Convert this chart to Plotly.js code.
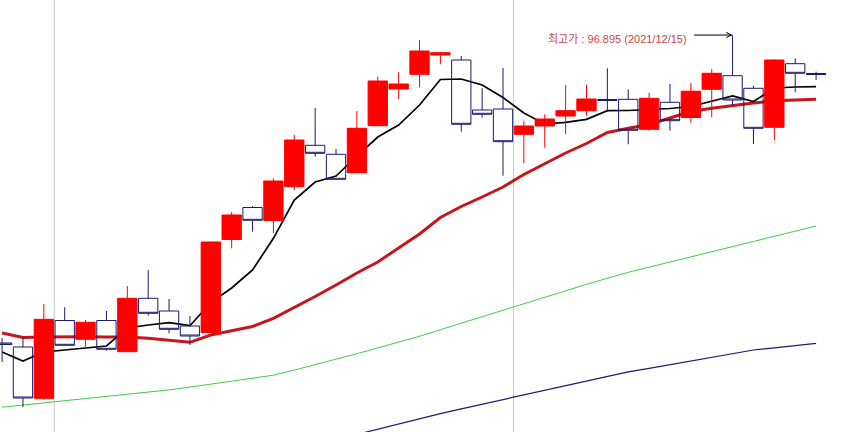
<!DOCTYPE html>
<html><head><meta charset="utf-8">
<script src="https://cdn.plot.ly/plotly-3.0.1.min.js"></script>
<style>html,body{margin:0;padding:0;background:#fff}#chart{width:843px;height:432px}</style>
</head><body><div id="chart"></div>
<script>
const dates = ['2021-10-27','2021-10-28','2021-10-29','2021-11-01','2021-11-02','2021-11-03','2021-11-04','2021-11-05',
  '2021-11-08','2021-11-09','2021-11-10','2021-11-11','2021-11-12','2021-11-15','2021-11-16','2021-11-17','2021-11-18','2021-11-19',
  '2021-11-22','2021-11-23','2021-11-24','2021-11-25','2021-11-26','2021-11-29','2021-11-30','2021-12-01','2021-12-02','2021-12-03',
  '2021-12-06','2021-12-07','2021-12-08','2021-12-09','2021-12-10','2021-12-13','2021-12-14','2021-12-15','2021-12-16','2021-12-17',
  '2021-12-20','2021-12-21'];
const openP = [66.1,65.7,60.57,68.35,66.47,68.35,65.23,70.57,69.3,67.8,67.15,76.45,79.65,78.35,81.73,85.87,84.97,83.13,87.83,91.5,
  92.97,94.9,94.4,89.4,89.5,86.97,87.8,88.8,89.33,90.45,90.47,87.47,90.17,88.65,91.47,92.83,91.57,87.67,94.03,93.05];
const highP = [66.6,66.6,70.0,69.67,68.4,69.3,71.8,73.4,70.5,68.8,76.25,79.2,79.8,82.57,86.9,89.6,85.5,89.3,92.73,93.2,
  96.4,95.15,94.8,91.57,93.6,88.32,88.97,91.9,91.9,93.57,91.47,91.13,92.0,92.1,93.5,96.895,91.83,94.45,94.57,93.23];
const lowP = [64.2,59.7,60.45,65.85,65.65,65.33,65.2,68.83,67.07,65.9,67.1,75.57,77.23,77.07,81.4,84.73,82.45,83.1,87.8,90.5,
  91.67,93.97,87.23,88.63,82.83,84.07,85.63,87.0,88.83,89.23,85.97,87.33,87.33,88.13,88.67,89.9,86.0,86.4,91.17,92.4];
const closeP = [65.95,60.6,68.47,65.87,68.17,65.47,70.57,69.07,67.47,66.8,76.2,78.9,78.37,82.3,86.4,85.07,82.47,87.57,92.3,92.0,
  95.3,95.13,87.97,88.97,86.23,87.8,88.5,89.33,90.5,90.35,87.37,90.57,88.33,91.28,93.07,90.4,87.57,94.4,93.07,92.95];
const ma5 = [65.2,64.3,65.2,65.43,65.6,65.8,67.6,67.9,68.13,67.83,70.14,71.6,73.4,76.57,80.4,82.2,82.8,84.8,86.7,87.9,
  89.9,92.45,92.5,91.9,90.65,89.1,88.0,88.17,88.47,89.33,89.35,89.45,89.55,89.75,90.3,90.8,90.25,91.6,91.7,91.73];
const ma20 = [67.1,66.65,66.7,66.73,66.73,66.7,66.7,66.57,66.37,66.17,66.9,67.3,67.75,68.57,69.65,70.75,71.9,73.1,74.2,75.6,
  77.0,78.65,79.75,80.7,81.7,82.95,84.05,85.1,86.05,87.15,87.57,87.95,88.6,89.25,89.57,89.85,90.1,90.32,90.4,90.48];
const ma60 = [59.68,59.89,60.12,60.32,60.55,60.77,60.98,61.2,61.41,61.69,61.97,62.25,62.53,62.88,63.39,63.92,64.48,65.03,65.61,66.19,
  66.77,67.43,68.09,68.72,69.38,70.04,70.68,71.32,71.97,72.6,73.17,73.68,74.19,74.7,75.21,75.72,76.23,76.72,77.27,77.8];
const ma120 = [null,null,null,null,null,null,null,null,null,null,null,null,null,null,null,null,null,56.96,57.49,58.01,
  58.54,59.03,59.52,59.98,60.47,60.94,61.4,61.86,62.32,62.78,63.21,63.56,63.93,64.3,64.67,65.03,65.4,65.61,65.84,66.07];

const xRange = [-0.1, 40.29];
const yRange = [57.2, 100.4];

function line(y, color, width) {
  return {type:'scatter', mode:'lines', x:dates, y:y, xaxis:'x', yaxis:'y',
    line:{color:color, width:width}, hoverinfo:'skip', showlegend:false, connectgaps:false};
}
const traces = [
  line(ma120, '#1c1c6e', 1.2),
  line(ma60, '#44cc44', 1),
  line(ma20, '#c4161c', 3),
  line(ma5, '#000000', 1.7),
  {type:'candlestick', x:dates, open:openP, high:highP, low:lowP, close:closeP, xaxis:'x2', yaxis:'y2',
   increasing:{line:{color:'#ff0000', width:1}, fillcolor:'#ff0000'},
   decreasing:{line:{color:'#1a1a70', width:1}, fillcolor:'rgba(0,0,0,0)'},
   whiskerwidth:0, showlegend:false}
];

// month boundaries -> vertical grid lines
const shapes = [];
for (let i = 1; i < dates.length; i++) {
  if (dates[i].slice(5,7) !== dates[i-1].slice(5,7)) {
    shapes.push({type:'line', xref:'x', yref:'paper', x0:i-0.5, x1:i-0.5, y0:0, y1:1,
      line:{color:'#c8c8c8', width:1}, layer:'below'});
  }
}

let k = 0;
for (let i = 1; i < highP.length; i++) if (highP[i] > highP[k]) k = i;
const label = '최고가 : ' + highP[k].toFixed(3) + ' (' + dates[k].replace(/-/g,'/') + ')';

const axX = {type:'category', range:xRange, showgrid:false, zeroline:false, showticklabels:false, showline:false, ticks:'', fixedrange:true};
const axY = {range:yRange, showgrid:false, zeroline:false, showticklabels:false, showline:false, ticks:'', fixedrange:true};

const layout = {
  width:843, height:432,
  margin:{l:0, r:0, t:0, b:0, pad:0},
  paper_bgcolor:'#ffffff', plot_bgcolor:'#ffffff',
  showlegend:false,
  boxgap:0.075, boxgroupgap:0,
  xaxis:Object.assign({}, axX, {rangeslider:{visible:false}}),
  yaxis:Object.assign({}, axY),
  xaxis2:Object.assign({}, axX, {overlaying:'x', rangeslider:{visible:false}}),
  yaxis2:Object.assign({}, axY, {overlaying:'y'}),
  shapes:shapes,
  annotations:[
    {xref:'x', yref:'y', x:dates[k], y:highP[k], text:label, showarrow:false,
     xanchor:'right', yanchor:'middle', xshift:-44, yshift:-3.5,
     font:{family:'Liberation Sans, Arial, Noto Sans CJK KR, sans-serif', size:11, color:'#cc4444'}},
    {xref:'x', yref:'y', x:dates[k], y:highP[k], text:'', showarrow:true,
     axref:'pixel', ayref:'pixel', ax:-40, ay:0, arrowhead:5, arrowsize:1, arrowwidth:1,
     arrowcolor:'#000000', standoff:0}
  ]
};

Plotly.newPlot('chart', traces, layout, {displayModeBar:false, staticPlot:true});
</script>
</body></html>
